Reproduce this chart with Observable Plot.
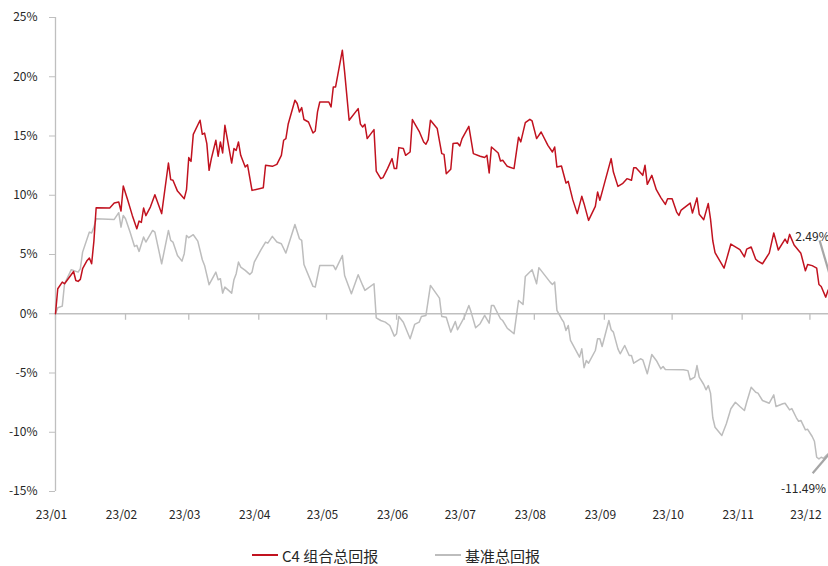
<!DOCTYPE html>
<html><head><meta charset="utf-8">
<script src="https://cdn.jsdelivr.net/npm/d3@7"></script>
<script src="https://cdn.jsdelivr.net/npm/@observablehq/plot@0.6"></script>
<style>
html,body{margin:0;padding:0;background:#fff;overflow:hidden;}
#wrap{position:relative;width:828px;height:566px;overflow:hidden;}
#chart{width:836px;}
#chart svg{max-width:none !important;width:836px !important;height:526px !important;}
.item{position:absolute;top:545px;height:20px;display:flex;align-items:center;font:15px "Noto Sans CJK SC","Noto Sans",sans-serif;color:#262626;white-space:nowrap;}
.sw{display:inline-block;width:26px;height:1.5px;margin-right:4px;}
</style></head>
<body><div id="wrap"><div id="chart"></div>
<div class="item" id="leg1" style="left:252px"></div>
<div class="item" id="leg2" style="left:435px"></div>
</div>
<script>
const seriesNames = ["C4 组合总回报", "基准总回报"];
const seriesColors = ["#c1121f", "#bdbdbd"];
const tickLabels = ["23/01","23/02","23/03","23/04","23/05","23/06","23/07","23/08","23/09","23/10","23/11","23/12"];
const yTicks = [-15,-10,-5,0,5,10,15,20,25];

const c4Dates = ["01-01","01-02","01-04","01-05","01-09","01-10","01-11","01-12","01-13","01-15","01-16","01-17","01-18","01-19","01-25","01-27","01-29","01-30","01-31","02-02","02-04","02-06","02-07","02-08","02-09","02-10","02-12","02-14","02-17","02-20","02-21","02-22","02-24","02-27","02-28","03-01","03-02","03-03","03-06","03-07","03-08","03-09","03-10","03-11","03-13","03-14","03-15","03-16","03-17","03-20","03-21","03-22","03-23","03-24","03-26","03-27","03-29","04-03","04-04","04-07","04-09","04-11","04-12","04-13","04-14","04-17","04-18","04-19","04-20","04-21","04-23","04-25","04-26","04-27","04-28","05-02","05-03","05-04","05-05","05-08","05-09","05-11","05-15","05-16","05-17","05-18","05-19","05-22","05-23","05-25","05-26","05-28","05-30","05-31","06-01","06-02","06-04","06-05","06-07","06-08","06-11","06-13","06-14","06-15","06-16","06-19","06-21","06-22","06-23","06-25","06-26","06-28","06-29","06-30","07-03","07-05","07-08","07-10","07-11","07-12","07-13","07-16","07-17","07-18","07-20","07-23","07-25","07-26","07-28","07-30","07-31","08-02","08-04","08-07","08-09","08-10","08-11","08-13","08-15","08-16","08-18","08-20","08-22","08-23","08-25","08-28","08-29","08-30","09-01","09-04","09-05","09-07","09-09","09-11","09-13","09-14","09-15","09-18","09-19","09-20","09-22","09-24","09-26","09-28","09-29","10-01","10-03","10-04","10-05","10-09","10-10","10-12","10-13","10-15","10-17","10-18","10-19","10-20","10-24","10-27","10-31","11-02","11-03","11-05","11-07","11-08","11-10","11-13","11-15","11-17","11-20","11-21","11-22","11-24","11-27","11-29","11-30","12-02","12-04","12-05","12-06","12-08","12-09","12-11"];
const c4Values = [0,2.11,2.67,2.53,3.57,2.81,2.73,2.9,3.8,4.5,4.7,4.22,6.13,8.95,8.92,9.34,9.43,8.67,10.78,9.57,8.3,7.18,7.82,7.71,8.92,8.28,9.0,10.05,8.45,12.72,11.32,11.26,10.35,9.71,10.47,13.18,12.86,15.14,16.33,15.14,15.25,14.36,12.1,13.09,14.64,13.29,14.5,13.57,15.9,12.72,13.94,13.79,14.5,13.37,12.38,12.58,10.41,10.64,12.53,12.44,12.61,13.37,14.64,14.78,15.99,18.02,17.74,17.03,17.4,16.39,16.18,15.25,15.42,17.03,17.87,17.87,17.45,19.14,19.14,22.24,20.41,16.33,17.31,16.0,15.76,15.99,14.78,15.54,12.04,11.4,11.49,12.25,13.09,12.25,12.25,14.02,13.94,13.37,13.65,16.39,15.4,14.5,14.3,14.7,16.33,15.63,13.51,13.45,11.82,12.19,14.36,14.41,14.16,14.78,15.82,13.51,13.29,13.18,13.37,11.88,14.07,13.56,12.89,12.95,12.44,12.25,14.9,14.5,16.13,16.41,16.27,14.78,15.34,14.21,13.65,14.07,12.38,12.47,11.03,11.17,9.63,8.45,9.91,9.29,7.88,9.06,10.27,9.57,10.98,13.09,11.96,10.75,10.98,11.4,11.26,12.33,12.33,11.68,12.53,10.92,11.68,10.47,9.8,9.23,9.71,9.71,8.58,8.3,8.75,9.34,8.5,9.78,8.4,7.94,9.3,7.98,6.16,5.15,3.85,5.88,5.42,4.8,5.45,5.63,4.6,4.44,4.22,5.12,6.82,5.38,6.3,5.95,6.7,5.8,5.1,3.63,4.16,4.06,3.85,2.47,2.3,1.4,1.97,2.49];

const benchDates = ["01-01","01-02","01-04","01-05","01-08","01-11","01-12","01-13","01-16","01-17","01-18","01-19","01-27","01-29","01-30","01-31","02-01","02-03","02-05","02-06","02-07","02-09","02-10","02-13","02-14","02-17","02-20","02-21","02-22","02-24","02-26","02-27","02-28","03-01","03-03","03-05","03-07","03-08","03-10","03-13","03-14","03-15","03-16","03-17","03-20","03-21","03-22","03-23","03-24","03-26","03-28","03-29","03-30","04-02","04-04","04-05","04-07","04-09","04-11","04-13","04-17","04-19","04-20","04-21","04-25","04-26","04-28","05-04","05-05","05-08","05-09","05-12","05-15","05-17","05-18","05-22","05-23","05-25","05-27","05-29","05-31","06-01","06-02","06-04","06-07","06-09","06-11","06-12","06-14","06-16","06-20","06-21","06-23","06-25","06-27","06-28","07-01","07-03","07-04","07-06","07-08","07-10","07-12","07-13","07-14","07-17","07-18","07-20","07-23","07-25","07-27","07-28","07-31","08-02","08-03","08-08","08-09","08-10","08-11","08-13","08-14","08-15","08-16","08-17","08-21","08-22","08-23","08-24","08-25","08-28","08-29","08-30","08-31","09-03","09-04","09-05","09-07","09-08","09-10","09-12","09-13","09-14","09-17","09-18","09-20","09-22","09-24","09-26","09-27","09-28","10-06","10-08","10-09","10-11","10-12","10-13","10-15","10-16","10-17","10-18","10-19","10-20","10-23","10-25","10-27","10-29","10-31","11-02","11-03","11-05","11-07","11-08","11-10","11-13","11-15","11-16","11-19","11-20","11-22","11-23","11-25","11-26","11-27","11-29","11-30","12-02","12-03","12-04","12-05","12-06","12-07","12-09","12-11"];
const benchValues = [0,0.5,0.64,2.53,3.72,3.51,3.8,5.2,6.89,6.81,7.31,8.02,7.96,8.53,7.31,8.3,8.02,6.89,5.68,5.77,5.26,6.47,6.05,7.03,6.89,4.22,7.03,6.19,6.05,4.92,4.44,5.07,6.61,6.42,6.67,6.13,4.56,4.08,2.45,3.51,2.87,2.96,1.74,2.25,1.74,2.87,3.38,4.36,3.94,3.66,3.32,3.51,4.36,5.41,6.05,5.96,6.53,6.05,5.91,5.12,7.54,6.33,6.19,4.16,2.31,2.25,4.08,4.08,3.72,4.92,3.23,1.69,3.29,2.39,1.97,2.53,-0.34,-0.57,-0.71,-0.99,-1.89,-1.69,-0.23,-0.71,-2.11,-0.9,-0.71,-0.23,-0.14,2.39,1.32,-0.23,-0.29,-1.55,-0.65,-1.35,-0.29,0.7,0.14,-1.18,-0.84,-0.14,-0.79,0.7,0.7,-0.42,-0.57,-1.22,-1.69,1.12,0.79,3.15,3.72,2.53,3.89,2.67,2.47,2.67,0.28,-0.42,-0.71,-1.41,-0.99,-2.25,-3.66,-2.96,-4.56,-3.94,-4.17,-3.1,-2.11,-2.11,-2.76,-0.57,-1.35,-1.55,-2.96,-3.38,-2.68,-3.52,-3.52,-4.17,-3.8,-3.89,-5.07,-3.44,-3.94,-4.65,-4.45,-4.7,-4.73,-4.8,-5.57,-5.35,-4.37,-5.35,-5.97,-6.42,-6.06,-6.7,-8.78,-9.58,-10.28,-9.29,-8.02,-7.47,-7.83,-8.17,-7.47,-6.2,-6.62,-6.7,-7.32,-7.55,-6.84,-7.83,-7.6,-7.55,-8.11,-8.0,-8.78,-9.07,-9.0,-9.8,-9.75,-10.36,-10.76,-12.11,-12.25,-12.11,-12.2,-11.82,-11.49];

const parse = d3.utcParse("%Y-%m-%d");
const c4 = c4Dates.map((d, i) => ({date: parse("2023-" + d), value: c4Values[i]}));
const bench = benchDates.map((d, i) => ({date: parse("2023-" + d), value: benchValues[i]}));
const start = c4[0].date;
const end = c4[c4.length - 1].date;
const monthTicks = tickLabels.map((t, i) => new Date(Date.UTC(2023, i, 1)));
const lastC4 = c4[c4.length - 1];
const lastBench = bench[bench.length - 1];
const pct = d => d.value.toFixed(2) + "%";

const chart = Plot.plot({
  width: 836, height: 526,
  marginLeft: 55, marginRight: 4, marginTop: 17, marginBottom: 35,
  style: {fontFamily: '"Noto Sans CJK SC","Noto Sans",sans-serif', fontSize: "12px", color: "#262626", background: "#fff", maxWidth: "none"},
  x: {type: "utc", domain: [start, end], label: null},
  y: {domain: [-15, 25], label: null},
  marks: [
    Plot.ruleY([0], {stroke: "#bfbfbf", strokeWidth: 1.3}),
    Plot.ruleX([start], {y1: -15, y2: 25, stroke: "#bfbfbf", strokeWidth: 1.3}),
    Plot.ruleX(monthTicks, {y1: 0, y2: -0.55, stroke: "#bfbfbf", strokeWidth: 1.3}),
    Plot.axisY({ticks: yTicks, tickSize: 6, tickPadding: 12, tickFormat: d => d + "%", stroke: "#bfbfbf", fill: "#262626", label: null}),
    Plot.axisX({ticks: monthTicks, tickSize: 0, tickPadding: 19, dx: -4, tickFormat: d => tickLabels[d.getUTCMonth()], fill: "#262626", label: null}),
    Plot.line(bench, {x: "date", y: "value", stroke: seriesColors[1], strokeWidth: 1.5}),
    Plot.line(c4, {x: "date", y: "value", stroke: seriesColors[0], strokeWidth: 1.5}),
    Plot.link([lastC4], {x1: "date", y1: "value", x2: d => d3.utcHour.offset(d.date, -137), y2: d => d.value + 3.7, stroke: "#a6a6a6", strokeWidth: 2.2}),
    Plot.link([lastBench], {x1: "date", y1: "value", x2: d => d3.utcHour.offset(d.date, -211), y2: d => d.value - 1.97, stroke: "#a6a6a6", strokeWidth: 2.2}),
    Plot.text([lastC4], {x: "date", y: "value", text: pct, dx: -20, dy: -47, fill: "#262626", fontSize: 12}),
    Plot.text([lastBench], {x: "date", y: "value", text: pct, dx: -29, dy: 39, fill: "#262626", fontSize: 12})
  ]
});
document.getElementById("chart").appendChild(chart);

["leg1", "leg2"].forEach((id, i) => {
  const el = document.getElementById(id);
  const sw = document.createElement("span");
  sw.className = "sw";
  sw.style.background = seriesColors[i];
  el.appendChild(sw);
  const t = document.createElement("span");
  t.textContent = seriesNames[i];
  el.appendChild(t);
});
</script>
</body></html>
